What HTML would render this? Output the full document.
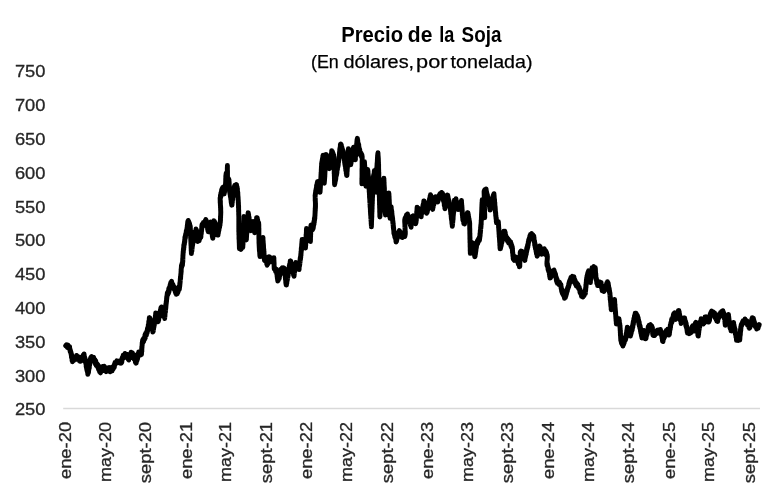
<!DOCTYPE html>
<html lang="es"><head><meta charset="utf-8"><title>Precio de la Soja</title>
<style>
html,body{margin:0;padding:0;background:#fff;}
body{width:772px;height:496px;overflow:hidden;font-family:"Liberation Sans",sans-serif;}
svg{display:block}
text{font-family:"Liberation Sans",sans-serif;}
</style></head><body>
<svg width="772" height="496" viewBox="0 0 772 496">
<rect width="772" height="496" fill="#fff"/>
<text y="42" font-size="21.3" font-weight="bold" fill="#000"><tspan x="341.22" textLength="61.75" lengthAdjust="spacingAndGlyphs">Precio</tspan> <tspan x="407.84" textLength="24.58" lengthAdjust="spacingAndGlyphs">de</tspan> <tspan x="439.33" textLength="15.10" lengthAdjust="spacingAndGlyphs">la</tspan> <tspan x="461.62" textLength="39.76" lengthAdjust="spacingAndGlyphs">Soja</tspan></text>
<text y="68" font-size="18.9" fill="#000" stroke="#000" stroke-width="0.25"><tspan x="311.00" textLength="27.82" lengthAdjust="spacingAndGlyphs">(En</tspan> <tspan x="343.40" textLength="70.77" lengthAdjust="spacingAndGlyphs">dólares,</tspan> <tspan x="416.07" textLength="31.41" lengthAdjust="spacingAndGlyphs">por</tspan> <tspan x="450.56" textLength="82.00" lengthAdjust="spacingAndGlyphs">tonelada)</tspan></text>
<line x1="63.2" y1="408.5" x2="760" y2="408.5" stroke="#d9d9d9" stroke-width="1.3"/>
<g font-size="17.3" fill="#262626" stroke="#262626" stroke-width="0.3">
<text x="14.9" y="77" textLength="30.6" lengthAdjust="spacingAndGlyphs">750</text>
<text x="14.9" y="111" textLength="30.6" lengthAdjust="spacingAndGlyphs">700</text>
<text x="14.9" y="145" textLength="30.6" lengthAdjust="spacingAndGlyphs">650</text>
<text x="14.9" y="179" textLength="30.6" lengthAdjust="spacingAndGlyphs">600</text>
<text x="14.9" y="213" textLength="30.6" lengthAdjust="spacingAndGlyphs">550</text>
<text x="14.9" y="246" textLength="30.6" lengthAdjust="spacingAndGlyphs">500</text>
<text x="14.9" y="280" textLength="30.6" lengthAdjust="spacingAndGlyphs">450</text>
<text x="14.9" y="314" textLength="30.6" lengthAdjust="spacingAndGlyphs">400</text>
<text x="14.9" y="348" textLength="30.6" lengthAdjust="spacingAndGlyphs">350</text>
<text x="14.9" y="382" textLength="30.6" lengthAdjust="spacingAndGlyphs">300</text>
<text x="14.9" y="415" textLength="30.6" lengthAdjust="spacingAndGlyphs">250</text>
</g>
<g font-size="17.3" fill="#262626" stroke="#262626" stroke-width="0.3">
<text transform="translate(70.8,421.9) rotate(-90)" text-anchor="end" textLength="57.2" lengthAdjust="spacingAndGlyphs">ene-20</text>
<text transform="translate(110.8,421.9) rotate(-90)" text-anchor="end" textLength="60.1" lengthAdjust="spacingAndGlyphs">may-20</text>
<text transform="translate(151.4,421.9) rotate(-90)" text-anchor="end" textLength="61.3" lengthAdjust="spacingAndGlyphs">sept-20</text>
<text transform="translate(191.7,421.9) rotate(-90)" text-anchor="end" textLength="57.2" lengthAdjust="spacingAndGlyphs">ene-21</text>
<text transform="translate(231.4,421.9) rotate(-90)" text-anchor="end" textLength="60.1" lengthAdjust="spacingAndGlyphs">may-21</text>
<text transform="translate(272.0,421.9) rotate(-90)" text-anchor="end" textLength="61.3" lengthAdjust="spacingAndGlyphs">sept-21</text>
<text transform="translate(312.3,421.9) rotate(-90)" text-anchor="end" textLength="57.2" lengthAdjust="spacingAndGlyphs">ene-22</text>
<text transform="translate(352.0,421.9) rotate(-90)" text-anchor="end" textLength="60.1" lengthAdjust="spacingAndGlyphs">may-22</text>
<text transform="translate(392.6,421.9) rotate(-90)" text-anchor="end" textLength="61.3" lengthAdjust="spacingAndGlyphs">sept-22</text>
<text transform="translate(433.0,421.9) rotate(-90)" text-anchor="end" textLength="57.2" lengthAdjust="spacingAndGlyphs">ene-23</text>
<text transform="translate(472.6,421.9) rotate(-90)" text-anchor="end" textLength="60.1" lengthAdjust="spacingAndGlyphs">may-23</text>
<text transform="translate(513.3,421.9) rotate(-90)" text-anchor="end" textLength="61.3" lengthAdjust="spacingAndGlyphs">sept-23</text>
<text transform="translate(553.6,421.9) rotate(-90)" text-anchor="end" textLength="57.2" lengthAdjust="spacingAndGlyphs">ene-24</text>
<text transform="translate(593.5,421.9) rotate(-90)" text-anchor="end" textLength="60.1" lengthAdjust="spacingAndGlyphs">may-24</text>
<text transform="translate(634.2,421.9) rotate(-90)" text-anchor="end" textLength="61.3" lengthAdjust="spacingAndGlyphs">sept-24</text>
<text transform="translate(674.5,421.9) rotate(-90)" text-anchor="end" textLength="57.2" lengthAdjust="spacingAndGlyphs">ene-25</text>
<text transform="translate(714.2,421.9) rotate(-90)" text-anchor="end" textLength="60.1" lengthAdjust="spacingAndGlyphs">may-25</text>
<text transform="translate(754.8,421.9) rotate(-90)" text-anchor="end" textLength="61.3" lengthAdjust="spacingAndGlyphs">sept-25</text>
</g>
<path d="M65.7,345.7 66.4,344.8 67.2,347.4 67.9,345.0 68.7,347.9 69.4,347.4 69.6,346.6 69.8,350.2 70.0,348.8 70.2,351.8 70.5,350.3 70.7,353.2 70.9,351.7 71.1,353.3 71.2,355.0 71.4,353.5 71.5,357.6 71.7,355.5 71.8,358.3 72.0,356.3 72.1,360.9 72.3,357.9 72.4,361.7 72.6,361.1 73.1,358.3 73.7,360.7 74.2,357.2 74.8,359.7 75.3,356.9 75.9,358.2 76.5,355.4 77.0,356.0 77.4,358.6 77.9,356.3 78.3,359.6 78.8,356.9 79.2,360.6 79.6,358.3 80.1,361.4 80.5,361.2 80.9,359.7 81.3,360.9 81.6,357.5 82.0,359.9 82.4,356.6 82.8,358.8 83.1,355.1 83.5,357.1 83.9,355.2 84.1,354.0 84.3,358.5 84.5,356.3 84.7,359.8 84.8,357.4 85.0,361.7 85.2,358.6 85.4,362.4 85.6,359.8 85.8,362.7 86.0,364.4 86.1,362.9 86.2,366.9 86.4,364.8 86.5,368.1 86.7,366.5 86.8,369.9 87.0,367.1 87.2,371.3 87.3,368.5 87.5,372.5 87.6,370.3 87.8,374.4 87.9,373.6 88.0,371.2 88.2,373.5 88.3,369.3 88.5,372.6 88.6,368.3 88.7,370.7 88.9,367.3 89.0,369.2 89.1,365.0 89.3,368.1 89.4,363.2 89.6,365.5 89.7,362.2 89.8,364.5 90.0,361.2 90.1,362.7 90.2,359.5 90.4,360.7 90.5,358.1 90.7,360.0 90.8,357.4 91.6,356.6 92.5,358.9 93.3,357.9 93.6,357.2 94.0,361.3 94.3,359.0 94.7,362.0 95.0,359.7 95.4,364.0 95.7,360.7 96.1,365.3 96.4,364.0 96.9,363.5 97.3,366.6 97.8,364.6 98.3,366.5 98.5,369.3 98.8,366.0 99.0,369.9 99.3,368.7 99.5,371.6 99.8,370.2 100.0,372.1 100.5,372.8 100.9,369.1 101.4,371.1 101.9,368.5 102.4,369.9 102.8,366.5 103.3,367.1 103.7,369.3 104.2,366.2 104.6,370.7 105.1,368.1 105.5,370.2 106.2,371.6 107.0,368.0 107.7,370.3 108.4,369.2 109.2,367.5 110.1,371.8 110.9,370.2 111.5,367.6 112.1,370.9 112.6,367.0 113.2,369.1 113.8,367.1 114.0,365.4 114.3,367.3 114.5,364.0 114.8,365.0 115.0,362.4 115.3,362.7 116.1,363.4 116.8,360.8 117.6,362.6 118.4,361.4 119.0,361.0 119.7,363.0 120.3,361.5 120.9,362.7 121.2,363.2 121.5,360.4 121.8,362.4 122.1,358.0 122.3,359.8 122.6,357.0 122.9,358.6 123.2,355.3 123.5,355.8 124.3,356.5 125.0,353.4 125.8,357.3 126.6,354.9 126.9,354.2 127.2,357.9 127.5,356.4 127.9,358.9 128.2,357.6 128.5,359.6 128.8,360.0 129.1,356.2 129.5,358.4 129.8,355.8 130.1,358.0 130.4,353.6 130.8,355.4 131.1,352.1 131.4,352.9 131.9,354.4 132.4,352.8 133.0,357.2 133.5,355.8 133.8,354.6 134.1,359.1 134.4,357.0 134.8,360.2 135.1,358.7 135.4,362.4 135.7,359.8 136.0,362.1 136.2,363.2 136.4,359.4 136.7,361.0 136.9,357.2 137.1,360.5 137.3,355.6 137.6,358.8 137.8,354.2 138.0,357.2 138.2,353.5 138.5,355.4 138.7,351.9 138.9,352.4 139.5,353.7 140.2,352.5 140.8,354.9 141.4,354.2 141.5,352.3 141.5,354.4 141.6,349.7 141.6,352.5 141.7,348.2 141.8,351.7 141.8,346.7 141.9,349.3 141.9,346.2 142.0,347.6 142.1,344.6 142.1,346.0 142.2,342.5 142.2,345.4 142.3,342.6 142.7,339.9 143.0,342.6 143.4,338.7 143.7,341.6 144.1,338.0 144.4,338.2 144.7,339.2 145.0,334.7 145.3,338.0 145.6,333.5 145.8,336.1 146.1,332.9 146.4,335.1 146.7,332.5 147.0,330.5 147.2,332.9 147.5,328.1 147.7,330.9 148.0,328.8 148.1,326.6 148.2,329.3 148.3,324.6 148.5,326.6 148.6,323.8 148.7,324.9 148.8,321.1 148.9,324.3 149.0,320.6 149.2,322.7 149.3,317.7 149.4,320.8 149.5,318.3 149.7,317.8 149.9,321.4 150.1,319.6 150.3,322.1 150.5,320.0 150.7,324.6 150.9,322.1 151.1,326.5 151.4,323.8 151.6,328.0 151.8,324.8 152.0,328.5 152.2,327.1 152.4,330.2 152.6,328.7 152.8,332.1 153.0,331.3 153.1,329.4 153.3,331.1 153.4,328.0 153.5,330.2 153.6,326.1 153.8,328.0 153.9,324.2 154.0,327.0 154.1,322.8 154.3,325.5 154.4,321.1 154.5,323.3 154.7,319.5 154.8,321.0 154.9,318.0 155.0,319.7 155.2,317.1 155.3,319.0 155.4,315.3 155.5,316.9 155.7,312.9 155.8,313.9 156.0,316.2 156.2,314.2 156.4,317.7 156.6,315.3 156.9,319.5 157.1,317.5 157.3,320.7 157.5,318.8 157.7,321.8 157.9,321.4 158.1,318.7 158.3,321.3 158.5,317.5 158.7,320.2 158.9,315.4 159.1,318.1 159.3,314.3 159.5,316.7 159.6,312.9 159.8,315.4 160.0,311.4 160.2,313.6 160.4,309.9 160.6,312.6 160.8,308.0 161.0,311.0 161.2,308.2 161.5,306.9 161.8,310.9 162.0,309.0 162.3,313.5 162.6,310.1 162.9,313.9 163.2,312.7 163.5,315.9 163.8,314.4 164.0,317.1 164.3,315.9 164.6,317.6 164.7,318.5 164.8,314.1 164.9,317.2 165.0,313.4 165.0,315.4 165.1,311.0 165.2,312.9 165.3,309.1 165.4,312.5 165.5,308.4 165.6,310.9 165.7,306.6 165.8,308.6 165.8,304.1 165.9,307.5 166.0,303.7 166.1,305.3 166.2,301.6 166.3,303.5 166.4,300.4 166.5,301.9 166.6,298.0 166.7,299.8 166.7,296.7 166.8,298.8 166.9,295.8 167.0,297.1 167.1,295.0 167.4,292.6 167.7,295.0 168.0,291.8 168.3,291.9 168.5,293.3 168.8,288.4 169.0,291.7 169.3,287.8 169.5,289.1 169.8,286.3 170.0,288.2 170.2,284.4 170.5,285.7 170.7,282.6 171.0,285.3 171.2,282.4 171.6,281.2 171.9,285.0 172.3,283.6 172.7,287.3 173.0,284.4 173.4,288.5 173.8,286.5 174.1,289.0 174.5,287.1 174.9,290.9 175.2,289.4 175.6,293.1 176.0,290.0 176.3,294.3 176.7,293.1 177.0,291.5 177.3,293.7 177.7,290.1 178.0,292.3 178.3,288.2 178.6,290.2 179.0,286.6 179.3,289.6 179.6,286.8 179.7,284.9 179.8,286.2 179.8,282.9 179.9,284.8 180.0,282.0 180.1,283.1 180.2,280.5 180.2,281.6 180.3,278.6 180.4,280.2 180.5,276.4 180.6,278.6 180.7,275.2 180.7,276.9 180.8,273.8 180.9,274.3 181.0,274.3 181.0,271.6 181.1,272.7 181.1,269.3 181.2,271.9 181.2,268.5 181.2,270.2 181.3,268.0 181.5,265.2 181.7,267.4 181.9,263.8 182.0,266.4 182.2,262.8 182.4,265.5 182.6,262.8 182.6,260.7 182.7,262.7 182.7,258.6 182.8,261.7 182.8,257.5 182.9,259.9 182.9,255.4 182.9,258.0 183.0,254.2 183.0,256.0 183.1,253.1 183.1,254.1 183.2,251.4 183.2,251.5 183.3,252.6 183.4,248.8 183.5,250.2 183.6,247.5 183.7,249.6 183.8,244.9 183.9,247.8 184.0,244.1 184.1,245.7 184.3,242.6 184.4,244.4 184.5,241.2 184.6,242.9 184.7,239.5 184.8,242.1 184.9,237.0 185.0,239.9 185.1,237.6 185.3,235.7 185.4,238.2 185.6,234.0 185.8,235.7 186.0,232.8 186.1,234.1 186.3,230.6 186.5,232.7 186.7,229.3 186.8,231.1 187.0,228.8 187.1,227.2 187.2,228.3 187.3,225.4 187.4,226.8 187.5,223.8 187.6,224.6 187.7,221.8 187.8,223.2 187.9,221.3 188.2,220.4 188.6,224.3 188.9,221.6 189.2,225.9 189.5,223.1 189.9,227.6 190.2,226.3 190.2,225.8 190.3,229.1 190.3,226.5 190.3,230.5 190.4,228.5 190.4,232.8 190.5,231.1 190.5,234.7 190.5,231.5 190.6,236.0 190.6,233.3 190.6,237.8 190.7,235.7 190.7,239.0 190.7,236.8 190.8,241.1 190.8,238.0 190.9,242.7 190.9,239.9 190.9,244.3 191.0,241.4 191.0,245.7 191.0,243.6 191.1,246.3 191.1,245.3 191.1,248.4 191.2,247.0 191.2,250.7 191.3,247.9 191.3,252.0 191.3,249.4 191.4,253.6 191.4,252.7 191.5,250.4 191.6,251.9 191.7,248.4 191.9,251.3 192.0,247.2 192.1,249.4 192.2,245.4 192.3,247.2 192.4,243.7 192.5,245.8 192.7,243.0 192.8,244.2 192.9,240.5 193.0,242.6 193.1,238.9 193.2,242.1 193.3,237.6 193.4,239.6 193.6,236.0 193.7,238.4 193.8,234.0 193.9,235.1 194.3,236.0 194.6,232.0 195.0,233.8 195.3,231.3 195.7,232.7 196.0,229.0 196.4,230.1 196.5,232.1 196.6,230.1 196.7,233.3 196.8,232.5 196.9,235.3 197.0,233.2 197.1,237.5 197.1,234.8 197.2,238.6 197.3,236.7 197.4,240.4 197.5,238.3 197.6,241.5 197.7,241.4 198.1,238.7 198.5,241.1 198.9,237.1 199.2,240.7 199.6,237.1 200.0,238.6 200.4,234.6 200.8,235.8 200.9,237.2 201.0,232.8 201.1,234.6 201.2,231.6 201.3,234.0 201.4,230.1 201.5,232.0 201.6,228.6 201.7,230.3 201.8,225.9 201.9,228.2 202.0,224.5 202.1,225.7 202.7,226.6 203.4,222.4 204.0,223.8 204.4,224.9 204.9,221.3 205.3,223.8 205.8,219.5 206.2,220.3 206.4,221.9 206.5,221.1 206.7,224.2 206.8,222.1 207.0,225.5 207.1,224.2 207.3,227.2 207.5,225.5 207.6,229.5 207.8,227.6 207.9,231.0 208.1,228.0 208.2,231.7 208.4,231.6 208.6,228.7 208.8,231.8 209.0,227.2 209.2,229.7 209.4,226.4 209.7,228.3 209.9,224.0 210.1,227.0 210.3,223.3 210.5,225.2 210.7,221.9 210.9,222.3 211.0,223.9 211.1,223.0 211.2,226.7 211.3,224.3 211.4,228.4 211.5,226.0 211.6,229.0 211.7,227.2 211.8,230.5 211.9,229.0 211.9,233.2 212.0,229.9 212.1,234.6 212.2,231.8 212.3,236.4 212.4,233.0 212.5,237.5 212.6,234.9 212.7,238.3 212.8,238.3 212.9,235.7 212.9,238.2 213.0,234.1 213.0,236.9 213.1,233.2 213.1,234.4 213.2,230.7 213.2,233.0 213.3,229.8 213.3,231.7 213.4,228.5 213.5,230.7 213.5,226.0 213.6,228.5 213.6,224.9 213.7,227.0 213.7,223.4 213.8,225.6 213.8,222.4 213.9,223.7 213.9,220.8 214.0,221.1 214.2,224.0 214.4,221.2 214.7,224.5 214.9,222.2 215.1,227.2 215.3,224.4 215.6,227.6 215.8,226.4 216.0,229.1 216.2,227.7 216.5,230.7 216.7,229.4 216.9,232.5 217.1,230.6 217.4,235.0 217.6,231.9 217.8,234.5 218.0,235.1 218.1,231.6 218.3,233.6 218.5,230.0 218.6,231.8 218.8,228.9 219.0,230.1 219.1,226.0 219.3,228.3 219.5,225.1 219.6,227.4 219.8,223.0 220.0,225.3 220.1,222.2 220.3,222.6 220.3,222.9 220.4,219.7 220.4,221.7 220.5,217.4 220.5,220.7 220.5,215.9 220.6,218.0 220.6,215.6 220.6,217.4 220.7,212.8 220.7,215.5 220.8,211.7 220.8,212.5 220.8,212.5 220.7,209.6 220.7,212.3 220.7,207.4 220.6,210.6 220.6,205.7 220.5,208.2 220.5,205.3 220.5,206.5 220.4,203.2 220.4,205.7 220.4,201.0 220.3,204.2 220.3,199.9 220.2,202.7 220.2,198.6 220.2,200.8 220.1,197.7 220.1,197.7 220.3,198.8 220.5,195.0 220.7,197.4 220.9,192.9 221.1,195.0 221.2,192.0 221.4,193.3 221.6,189.8 221.8,192.4 222.0,188.9 222.2,190.0 222.4,188.3 222.6,187.6 222.9,191.5 223.1,189.4 223.3,192.6 223.5,190.7 223.8,194.0 224.0,194.0 224.1,192.0 224.2,193.9 224.4,189.6 224.5,192.6 224.6,188.1 224.7,190.8 224.9,187.5 225.0,189.0 225.1,184.9 225.2,188.1 225.4,184.3 225.5,185.6 225.6,184.0 225.6,181.7 225.7,184.2 225.7,180.3 225.7,182.0 225.7,178.4 225.8,181.5 225.8,177.5 225.8,178.6 225.8,175.8 225.9,177.6 225.9,175.5 226.2,173.1 226.6,175.3 227.0,171.7 227.3,173.0 227.3,174.0 227.3,169.9 227.3,171.6 227.3,167.6 227.4,170.2 227.4,166.2 227.4,168.4 227.4,165.4 227.4,165.7 227.4,168.4 227.4,166.1 227.4,170.3 227.4,167.5 227.4,170.8 227.4,169.5 227.4,172.8 227.5,170.5 227.5,175.2 227.5,172.9 227.5,176.1 227.5,174.5 227.5,178.5 227.5,176.2 227.5,178.0 228.0,179.5 228.4,178.5 228.9,180.0 228.9,182.1 229.0,179.5 229.0,184.3 229.1,181.3 229.1,186.0 229.2,182.5 229.2,186.6 229.3,185.1 229.3,189.0 229.4,185.9 229.4,189.3 229.5,187.5 229.5,190.0 229.6,192.1 229.8,190.3 229.9,193.7 230.0,192.2 230.1,194.8 230.3,193.7 230.4,197.0 230.5,194.4 230.7,198.2 230.8,196.0 230.9,200.0 231.0,198.5 231.2,202.5 231.3,199.4 231.4,203.6 231.5,202.1 231.7,205.2 231.8,204.6 231.9,202.5 232.0,205.1 232.2,201.1 232.3,202.6 232.4,198.5 232.5,200.5 232.6,197.6 232.7,200.0 232.9,195.4 233.0,197.3 233.1,194.9 233.2,195.7 233.3,192.0 233.4,194.4 233.6,190.6 233.7,193.7 233.8,189.6 233.9,190.0 234.1,190.3 234.4,186.2 234.6,189.2 234.8,185.5 235.1,187.6 235.3,185.0 236.3,185.0 236.5,184.6 236.6,187.7 236.8,186.6 236.9,190.0 237.1,186.8 237.2,191.3 237.4,188.3 237.5,192.0 237.7,192.0 237.7,191.7 237.8,195.0 237.8,192.2 237.9,197.3 237.9,194.6 238.0,197.8 238.0,196.1 238.1,199.7 238.1,196.9 238.2,200.9 238.2,198.7 238.3,203.2 238.3,200.2 238.4,204.8 238.4,202.1 238.5,205.8 238.5,205.3 238.5,204.9 238.5,208.2 238.6,205.8 238.6,209.4 238.6,208.3 238.6,212.0 238.7,209.8 238.7,212.6 238.7,211.7 238.7,214.9 238.7,212.9 238.8,217.2 238.8,213.8 238.8,216.6 238.8,219.6 238.8,217.0 238.8,219.9 238.8,218.9 238.8,222.1 238.8,219.6 238.8,223.6 238.8,221.8 238.8,225.1 238.8,222.9 238.8,227.1 238.8,224.3 238.8,228.9 238.8,226.0 238.8,229.5 238.8,227.3 238.8,230.1 238.8,232.1 238.9,230.1 238.9,233.8 238.9,231.4 238.9,235.1 239.0,233.7 239.0,236.8 239.0,235.4 239.0,239.3 239.1,236.4 239.1,240.0 239.1,238.3 239.2,242.6 239.2,239.7 239.2,243.1 239.2,240.8 239.3,245.2 239.3,242.1 239.3,246.0 239.3,244.5 239.4,248.7 239.4,247.5 240.2,245.4 241.1,249.4 242.0,246.4 242.8,247.1 242.8,247.5 242.9,244.5 242.9,245.7 242.9,241.7 243.0,244.7 243.0,240.2 243.0,242.8 243.1,238.6 243.1,241.3 243.1,237.9 243.2,240.1 243.2,235.3 243.2,237.6 243.3,234.2 243.3,236.7 243.3,233.1 243.4,234.7 243.4,231.6 243.4,232.9 243.4,229.9 243.5,231.8 243.5,227.7 243.5,229.6 243.6,227.0 243.6,228.2 243.6,224.4 243.7,226.4 243.7,223.3 243.7,224.8 243.8,221.0 243.8,223.7 243.8,220.5 243.9,221.4 243.9,218.4 243.9,220.5 244.0,216.4 244.0,217.3 244.1,219.0 244.2,217.9 244.2,221.4 244.3,219.1 244.4,222.4 244.5,220.8 244.6,224.9 244.7,222.3 244.7,225.9 244.8,223.8 244.9,227.3 245.0,224.7 245.1,229.7 245.2,227.0 245.2,230.1 245.3,228.0 245.4,231.7 245.5,230.6 245.6,234.2 245.6,231.6 245.7,235.7 245.8,233.2 245.9,237.3 246.0,234.6 246.1,237.9 246.1,236.8 246.2,240.0 246.3,239.2 246.4,236.7 246.4,239.7 246.5,235.9 246.5,237.7 246.6,234.0 246.6,236.0 246.7,232.7 246.8,234.1 246.8,230.6 246.9,233.4 246.9,229.6 247.0,231.2 247.0,227.0 247.1,230.3 247.2,226.3 247.2,227.5 247.3,223.7 247.3,227.2 247.4,222.8 247.5,224.3 247.5,220.6 247.6,223.2 247.6,219.0 247.7,221.9 247.7,217.6 247.8,219.7 247.9,216.0 247.9,218.2 248.0,215.0 248.0,217.5 248.1,212.8 248.1,215.0 248.2,213.2 248.3,212.9 248.5,216.1 248.6,214.1 248.7,217.7 248.8,216.2 249.0,219.1 249.1,217.0 249.2,221.6 249.4,219.5 249.5,222.7 249.6,220.1 249.7,223.6 249.9,221.6 250.0,225.3 250.1,223.5 250.3,227.5 250.4,225.1 250.5,228.7 250.6,226.9 250.8,230.7 250.9,229.9 251.1,227.7 251.4,230.0 251.6,226.1 251.8,228.1 252.1,225.0 252.3,226.7 252.5,222.8 252.8,224.5 253.0,222.6 253.1,221.5 253.3,226.0 253.4,223.5 253.5,226.7 253.7,225.0 253.8,228.1 253.9,227.0 254.0,230.1 254.2,228.6 254.3,231.7 254.4,229.6 254.6,232.7 254.7,232.6 254.8,230.1 254.9,231.9 255.0,228.4 255.1,231.3 255.3,227.1 255.4,228.7 255.5,225.5 255.6,227.6 255.7,223.3 255.8,225.6 255.9,221.9 256.0,225.3 256.1,220.5 256.3,223.4 256.4,219.6 256.5,222.1 256.6,217.6 256.7,218.3 256.9,221.2 257.2,217.7 257.4,221.5 257.6,219.4 257.9,224.1 258.1,221.9 258.3,224.8 258.6,222.4 258.8,225.0 258.8,226.8 258.8,224.6 258.8,228.6 258.8,226.3 258.8,230.0 258.9,228.3 258.9,232.7 258.9,230.4 258.9,233.4 258.9,231.6 258.9,235.1 258.9,233.8 258.9,236.5 258.9,235.3 258.9,239.2 258.9,236.1 259.0,240.7 259.0,238.5 259.0,242.2 259.0,240.2 259.0,243.4 259.0,242.7 259.1,241.8 259.1,245.6 259.2,243.1 259.2,247.5 259.3,245.1 259.3,249.5 259.4,247.4 259.4,251.3 259.5,248.2 259.6,252.0 259.6,249.6 259.7,253.4 259.7,250.9 259.8,255.5 259.8,253.4 259.9,255.5 260.0,256.6 260.2,252.5 260.3,254.2 260.4,250.5 260.6,252.4 260.7,248.9 260.9,251.2 261.0,247.6 261.1,250.6 261.3,246.1 261.4,248.6 261.5,244.9 261.7,246.1 261.8,243.7 261.9,244.8 262.1,241.3 262.2,243.6 262.4,239.9 262.5,242.7 262.6,238.9 262.8,240.2 262.9,238.3 263.0,237.4 263.0,240.7 263.1,239.9 263.1,242.7 263.2,241.3 263.2,244.3 263.3,242.7 263.4,246.2 263.4,243.8 263.5,247.2 263.5,245.3 263.6,249.2 263.6,247.6 263.7,251.4 263.8,249.0 263.8,251.9 263.9,250.8 263.9,254.1 264.0,251.2 264.0,255.9 264.1,253.5 264.2,256.7 264.2,255.6 264.3,258.8 264.3,256.4 264.4,260.0 264.4,257.8 264.5,260.3 265.1,261.0 265.7,258.8 265.9,257.5 266.2,262.2 266.4,260.1 266.7,264.1 266.9,262.0 267.2,265.2 267.4,264.5 267.6,262.4 267.7,264.1 267.9,261.4 268.1,263.4 268.2,260.0 268.4,261.6 268.6,257.1 268.8,259.5 268.9,256.7 269.1,257.0 269.4,259.4 269.7,257.0 270.0,260.9 270.2,258.0 270.5,261.7 270.8,261.4 271.4,259.7 272.0,261.6 272.7,259.0 273.3,261.4 273.9,258.8 273.9,257.7 273.9,262.1 274.0,260.4 274.0,263.9 274.0,260.8 274.0,264.9 274.1,262.4 274.1,266.4 274.1,264.7 274.1,267.5 274.2,266.2 274.2,268.9 274.2,268.9 274.9,268.1 275.7,271.6 276.4,270.2 276.5,269.3 276.6,273.8 276.7,270.9 276.9,274.6 277.0,272.7 277.1,276.5 277.2,274.0 277.3,278.2 277.4,276.4 277.6,280.0 277.7,277.0 277.8,281.1 277.9,280.8 278.1,278.0 278.4,280.1 278.6,277.4 278.8,278.9 279.1,275.2 279.3,278.4 279.5,273.7 279.8,276.0 280.0,272.0 280.2,274.5 280.5,271.4 280.7,273.8 280.9,269.3 281.2,272.0 281.4,269.5 282.2,267.7 283.0,271.5 283.8,267.8 284.6,269.2 284.7,272.0 284.8,269.0 284.8,273.6 284.9,270.9 285.0,274.9 285.1,272.3 285.2,275.9 285.2,274.4 285.3,277.9 285.4,276.2 285.5,279.9 285.6,277.6 285.6,280.2 285.7,279.3 285.8,283.1 285.9,280.5 286.0,283.5 286.0,282.5 286.1,284.9 286.2,284.9 286.3,282.3 286.5,285.0 286.6,280.7 286.8,283.5 286.9,280.0 287.0,281.7 287.2,278.0 287.3,280.4 287.5,275.8 287.6,278.9 287.7,275.2 287.9,277.3 288.0,272.4 288.2,275.8 288.3,272.0 288.4,273.2 288.6,270.4 288.7,271.3 288.9,267.7 289.0,268.9 289.1,270.1 289.3,265.7 289.4,268.6 289.6,264.2 289.8,266.3 289.9,263.5 290.1,264.6 290.2,261.0 290.4,263.2 290.5,261.4 290.7,260.9 290.9,264.3 291.1,262.9 291.3,265.6 291.5,264.1 291.7,267.8 291.9,265.5 292.1,268.8 292.2,266.2 292.4,270.6 292.6,267.8 292.8,272.3 293.0,270.6 293.2,273.5 293.4,271.5 293.6,275.5 293.8,273.2 294.0,275.2 294.1,276.2 294.3,272.1 294.4,273.9 294.5,270.0 294.6,272.1 294.8,268.5 294.9,270.6 295.0,268.0 295.1,269.1 295.3,265.3 295.4,268.6 295.5,264.8 295.6,266.3 295.8,262.5 295.9,263.2 296.3,265.8 296.8,263.6 297.2,266.9 297.7,264.8 298.1,268.8 298.6,266.4 299.0,268.3 299.1,269.6 299.2,265.6 299.3,267.0 299.4,263.4 299.6,265.9 299.7,262.7 299.8,264.5 299.9,261.2 300.0,263.2 300.1,258.8 300.2,261.7 300.3,257.3 300.5,259.5 300.6,256.1 300.7,258.0 300.8,253.8 300.9,255.1 301.0,255.2 301.0,251.4 301.1,253.5 301.2,250.8 301.2,252.2 301.3,248.1 301.4,250.9 301.4,247.3 301.5,249.8 301.6,245.8 301.7,247.6 301.7,243.8 301.8,246.3 301.9,241.8 301.9,244.6 302.0,240.8 302.1,242.5 302.1,239.4 302.2,239.6 302.5,242.3 302.8,239.4 303.1,243.6 303.4,241.5 303.7,244.7 303.9,242.1 304.2,246.4 304.5,244.5 304.8,247.7 305.1,244.9 305.4,247.7 305.5,248.0 305.5,245.1 305.6,246.5 305.6,242.8 305.7,245.7 305.7,242.0 305.8,243.2 305.8,240.2 305.9,241.8 305.9,238.3 306.0,240.0 306.0,237.0 306.1,238.5 306.1,234.5 306.2,237.6 306.2,234.1 306.3,236.4 306.3,232.5 306.4,234.0 306.4,229.7 306.5,233.0 306.5,228.5 306.6,229.5 306.9,231.6 307.1,230.0 307.4,233.4 307.6,231.6 307.9,234.3 308.1,232.7 308.4,235.6 308.6,234.2 308.9,238.2 309.1,235.3 309.4,239.3 309.6,236.9 309.9,240.7 310.1,239.1 310.4,240.8 310.4,241.6 310.5,237.9 310.5,240.3 310.5,235.6 310.5,238.3 310.6,234.5 310.6,237.1 310.6,233.1 310.7,234.8 310.7,231.1 310.7,234.2 310.8,229.5 310.8,232.4 310.8,227.8 310.9,230.8 310.9,226.6 310.9,228.9 310.9,225.5 311.0,227.6 311.0,225.1 311.4,225.0 311.8,228.0 312.1,225.5 312.5,229.9 312.9,228.9 313.0,226.4 313.2,228.4 313.3,225.1 313.4,227.1 313.6,223.2 313.7,225.4 313.9,221.5 314.0,224.5 314.1,220.6 314.3,222.5 314.4,218.1 314.5,220.5 314.7,216.9 314.8,217.6 314.8,219.0 314.9,215.2 314.9,216.8 315.0,213.5 315.0,215.6 315.1,210.8 315.1,213.6 315.1,210.4 315.2,212.2 315.2,208.2 315.3,210.8 315.3,206.7 315.4,209.1 315.4,204.7 315.5,207.4 315.5,205.1 315.5,202.9 315.4,205.6 315.4,201.6 315.4,203.5 315.3,199.6 315.3,202.0 315.3,198.4 315.2,200.7 315.2,196.4 315.2,197.7 315.1,194.9 315.1,195.2 315.2,195.8 315.4,192.8 315.5,194.2 315.7,190.7 315.8,193.0 316.0,189.2 316.1,190.8 316.3,187.8 316.4,189.9 316.6,185.2 316.7,188.1 316.9,184.7 317.0,186.9 317.2,182.8 317.3,184.4 317.5,181.6 317.6,181.8 317.8,184.4 318.0,181.4 318.2,185.8 318.4,183.4 318.6,187.2 318.8,185.3 318.9,189.3 319.1,186.7 319.3,190.4 319.5,187.6 319.7,192.2 319.9,189.6 320.1,191.8 320.1,192.2 320.2,188.7 320.2,190.4 320.3,186.7 320.3,189.1 320.4,185.1 320.4,187.4 320.5,184.2 320.5,185.8 320.5,182.5 320.6,184.2 320.6,181.6 320.7,183.3 320.7,179.6 320.8,181.1 320.8,178.0 320.9,179.8 320.9,176.2 320.9,178.5 321.0,174.3 321.0,176.5 321.1,172.3 321.1,175.6 321.2,172.0 321.2,174.0 321.3,169.2 321.3,172.4 321.3,168.7 321.4,170.9 321.4,166.5 321.5,168.1 321.5,165.8 321.6,167.9 321.6,163.3 321.7,165.3 321.7,163.4 321.9,161.7 322.0,162.8 322.2,159.9 322.4,162.1 322.5,158.1 322.7,159.6 322.9,155.7 323.1,158.9 323.2,155.2 323.4,155.4 323.4,158.2 323.5,155.4 323.5,159.7 323.5,156.9 323.5,161.4 323.6,158.3 323.6,163.0 323.6,160.7 323.6,164.4 323.7,161.9 323.7,166.0 323.7,163.6 323.7,167.8 323.8,165.0 323.8,168.5 323.8,167.1 323.9,170.0 323.9,168.3 323.9,171.5 323.9,170.0 324.0,173.2 324.0,171.5 324.0,175.3 324.0,173.1 324.1,177.4 324.1,175.4 324.1,179.0 324.1,176.4 324.2,180.2 324.2,177.7 324.2,182.2 324.2,179.7 324.3,183.2 324.3,182.6 324.4,179.6 324.4,181.9 324.5,178.5 324.5,181.0 324.6,177.7 324.6,179.4 324.7,175.2 324.7,178.2 324.8,174.1 324.8,176.7 324.9,172.2 324.9,174.4 325.0,170.0 325.0,172.1 325.1,168.7 325.1,171.3 325.2,167.6 325.3,170.0 325.3,165.9 325.4,167.9 325.4,164.1 325.5,166.7 325.5,162.9 325.6,164.6 325.6,161.0 325.7,163.1 325.7,158.8 325.8,161.1 325.8,157.2 325.9,159.7 325.9,156.0 326.0,157.9 326.0,154.4 326.1,155.1 326.3,158.0 326.5,155.0 326.7,159.3 326.9,157.0 327.0,160.2 327.2,158.6 327.4,162.2 327.6,159.7 327.8,164.0 328.0,162.1 328.2,165.5 328.4,162.5 328.5,166.8 328.7,165.2 328.9,168.0 329.1,166.8 329.3,168.4 329.4,168.6 329.5,164.7 329.7,167.7 329.8,163.5 329.9,166.3 330.0,161.6 330.1,164.5 330.3,160.4 330.4,162.9 330.5,158.7 330.6,161.3 330.7,157.1 330.8,159.1 331.0,155.5 331.1,157.9 331.2,153.8 331.3,155.8 331.4,153.1 331.6,154.1 331.7,150.6 331.8,151.7 332.1,154.5 332.4,151.4 332.7,155.1 332.9,152.6 333.2,157.2 333.5,154.4 333.8,156.7 333.8,158.6 333.8,157.1 333.9,160.4 333.9,158.6 333.9,162.0 333.9,159.7 334.0,164.3 334.0,162.2 334.0,165.4 334.0,163.8 334.1,166.3 334.1,164.2 334.1,168.5 334.1,165.7 334.1,169.9 334.2,168.5 334.2,171.4 334.2,169.3 334.2,173.8 334.3,170.3 334.3,174.7 334.3,172.7 334.3,175.8 334.3,173.9 334.4,177.5 334.4,176.2 334.4,178.8 334.4,178.0 334.5,181.3 334.5,179.4 334.5,183.3 334.5,181.0 334.6,184.7 334.6,182.6 334.6,184.3 334.7,184.3 334.9,180.9 335.0,183.1 335.1,179.4 335.3,181.5 335.4,178.8 335.5,180.7 335.7,176.3 335.8,179.3 335.9,174.7 336.1,176.7 336.2,173.3 336.3,176.0 336.5,172.0 336.6,174.8 336.8,170.8 336.9,173.3 337.0,168.5 337.2,170.3 337.3,168.0 337.4,169.7 337.6,165.3 337.7,167.3 337.8,164.5 338.0,166.7 338.1,163.1 338.2,165.4 338.4,161.1 338.5,161.8 338.6,161.9 338.7,158.9 338.8,161.0 338.9,157.3 339.0,159.6 339.1,156.1 339.2,158.2 339.3,154.3 339.4,156.5 339.5,152.3 339.6,154.6 339.6,151.1 339.7,153.5 339.8,148.7 339.9,152.0 340.0,147.7 340.1,149.7 340.2,146.9 340.3,149.1 340.4,144.4 340.5,147.3 340.6,144.6 340.8,144.1 341.1,147.7 341.3,144.6 341.6,149.5 341.8,146.6 342.1,150.2 342.3,148.4 342.5,152.5 342.8,149.9 343.0,153.7 343.3,151.0 343.5,153.4 343.6,156.3 343.7,153.1 343.9,157.0 344.0,155.8 344.1,158.6 344.2,156.8 344.4,160.6 344.5,157.9 344.6,162.7 344.7,160.6 344.8,164.2 345.0,161.1 345.1,165.9 345.2,163.1 345.3,166.6 345.5,164.3 345.6,169.0 345.7,166.1 345.8,170.7 345.9,168.2 346.1,171.2 346.2,169.5 346.3,173.8 346.4,171.6 346.6,175.3 346.7,172.2 346.8,175.1 346.9,175.4 346.9,171.8 347.0,174.4 347.0,170.4 347.1,172.1 347.1,169.1 347.2,171.3 347.2,166.7 347.3,169.3 347.3,166.1 347.4,168.2 347.5,163.5 347.5,165.7 347.6,162.2 347.6,165.1 347.7,160.2 347.7,162.9 347.8,159.1 347.8,161.4 347.9,157.9 348.0,159.2 348.0,156.3 348.1,158.3 348.1,154.5 348.2,156.5 348.2,152.8 348.3,154.8 348.3,151.5 348.4,152.5 348.4,148.7 348.5,150.1 348.6,152.2 348.7,150.8 348.8,154.1 348.9,151.4 349.1,155.0 349.2,153.2 349.3,156.9 349.4,154.9 349.5,158.0 349.6,157.2 349.7,161.0 349.8,157.6 349.9,161.8 350.1,159.6 350.2,163.1 350.3,160.8 350.4,164.9 350.5,164.3 350.6,161.4 350.8,164.6 350.9,160.0 351.1,163.3 351.2,159.2 351.4,160.4 351.5,157.7 351.6,159.0 351.8,156.3 351.9,157.2 352.1,154.0 352.2,156.8 352.4,152.5 352.5,155.3 352.6,150.3 352.8,152.4 352.9,149.2 353.1,151.3 353.2,148.2 353.4,150.5 353.5,147.6 353.6,147.2 353.7,150.7 353.8,148.3 354.0,152.9 354.1,149.8 354.2,153.6 354.3,151.6 354.4,154.8 354.5,152.5 354.6,157.6 354.7,155.1 354.9,157.8 355.0,156.6 355.1,159.8 355.2,159.3 355.3,156.4 355.4,159.8 355.4,154.9 355.5,156.9 355.6,153.4 355.7,156.3 355.8,152.0 355.8,155.1 355.9,151.3 356.0,152.3 356.1,148.7 356.2,151.8 356.2,147.2 356.3,149.3 356.4,145.7 356.5,148.4 356.6,144.8 356.6,146.1 356.7,143.0 356.8,144.2 356.9,141.0 357.0,142.7 357.0,139.8 357.1,141.1 357.2,139.3 357.4,138.3 357.5,141.7 357.7,139.9 357.9,143.5 358.0,142.4 358.2,146.1 358.4,143.7 358.5,147.7 358.7,144.3 358.9,149.2 359.0,146.9 359.2,150.1 359.4,148.6 359.5,152.4 359.7,149.1 359.9,153.5 360.0,151.2 360.2,153.4 360.6,155.3 361.0,152.8 361.4,156.8 361.8,154.4 362.2,156.7 362.2,158.5 362.2,157.2 362.2,160.0 362.2,158.1 362.2,162.3 362.1,160.6 362.1,164.4 362.1,162.0 362.1,165.3 362.1,163.8 362.1,166.8 362.1,164.4 362.1,168.5 362.1,167.0 362.1,170.3 362.0,168.4 362.0,172.5 362.0,170.3 362.0,174.2 362.0,172.0 362.0,175.7 362.0,172.8 362.0,176.4 362.0,174.7 362.0,178.1 362.0,176.6 361.9,179.6 361.9,178.1 361.9,182.4 361.9,178.8 361.9,183.9 361.9,182.6 362.0,180.9 362.1,182.2 362.2,178.1 362.3,180.3 362.4,176.8 362.5,179.0 362.6,174.8 362.7,177.0 362.8,173.5 362.9,175.9 363.0,172.8 363.1,173.8 363.1,170.2 363.2,172.9 363.3,169.6 363.4,171.2 363.5,166.9 363.6,169.3 363.7,165.8 363.8,167.6 363.9,164.8 364.0,166.9 364.1,162.4 364.2,164.5 364.3,161.7 364.4,161.8 364.5,163.5 364.5,161.8 364.6,165.7 364.6,163.9 364.7,166.9 364.7,165.0 364.8,169.2 364.8,166.3 364.9,170.7 364.9,168.8 365.0,171.5 365.0,169.7 365.1,173.6 365.1,171.3 365.2,174.7 365.3,172.8 365.3,176.8 365.4,174.3 365.4,179.1 365.5,176.5 365.5,179.5 365.6,177.5 365.6,181.8 365.7,179.1 365.7,183.1 365.8,181.7 365.8,185.5 365.9,183.1 365.9,186.2 366.0,186.0 366.1,183.9 366.2,186.0 366.3,182.8 366.3,184.3 366.4,180.6 366.5,182.7 366.6,179.5 366.7,181.4 366.8,176.9 366.9,180.1 366.9,176.0 367.0,178.2 367.1,174.3 367.2,176.7 367.3,173.2 367.4,175.3 367.4,170.4 367.5,173.2 367.6,169.4 367.7,170.1 367.8,172.4 367.9,170.1 367.9,173.2 368.0,171.0 368.1,175.0 368.2,173.7 368.2,176.4 368.3,175.1 368.4,177.0 368.4,179.7 368.5,177.8 368.5,180.3 368.6,178.4 368.6,182.0 368.7,181.0 368.7,184.2 368.8,181.8 368.8,185.7 368.9,183.2 368.9,186.7 369.0,184.6 369.0,189.2 369.1,187.4 369.1,189.9 369.2,188.3 369.2,192.1 369.3,190.2 369.3,193.1 369.4,191.6 369.4,194.8 369.5,193.0 369.5,197.4 369.6,195.2 369.6,198.6 369.7,196.0 369.7,199.6 369.8,197.4 369.8,202.3 369.9,199.7 369.9,203.2 370.0,200.6 370.0,204.9 370.1,202.9 370.1,207.1 370.2,203.9 370.2,207.9 370.3,206.3 370.3,209.4 370.4,207.6 370.4,212.0 370.5,208.7 370.5,213.5 370.6,210.3 370.6,215.0 370.7,213.0 370.7,216.1 370.8,213.3 370.8,218.3 370.9,215.9 370.9,219.2 371.0,216.9 371.0,220.7 371.1,218.7 371.1,221.9 371.2,220.4 371.2,224.1 371.3,222.6 371.3,225.2 371.4,222.8 371.4,225.8 371.4,226.9 371.5,222.1 371.5,225.1 371.5,220.7 371.5,223.9 371.6,219.0 371.6,221.0 371.6,217.7 371.7,219.8 371.7,216.1 371.7,218.2 371.8,214.7 371.8,217.5 371.8,213.0 371.8,215.0 371.9,211.5 371.9,213.6 371.9,209.3 372.0,211.8 372.0,208.7 372.0,210.8 372.1,207.3 372.1,209.1 372.1,204.5 372.1,207.4 372.2,203.9 372.2,205.7 372.2,202.0 372.3,203.7 372.3,201.0 372.3,202.1 372.4,199.1 372.4,200.9 372.4,197.5 372.4,199.0 372.5,196.2 372.5,197.9 372.5,193.6 372.6,196.4 372.6,192.3 372.6,194.8 372.7,191.3 372.7,193.3 372.7,189.3 372.8,191.5 372.8,187.5 372.8,189.8 372.8,186.3 372.9,187.9 372.9,184.9 372.9,186.7 373.0,183.1 373.0,185.2 373.0,182.0 373.1,183.3 373.1,179.2 373.1,181.5 373.1,178.0 373.2,180.3 373.2,178.0 373.4,176.1 373.5,178.7 373.7,174.6 373.9,176.9 374.0,173.3 374.2,174.4 374.3,170.7 374.5,172.0 375.1,172.7 375.6,169.8 376.2,170.0 376.2,172.1 376.2,170.2 376.2,174.2 376.2,172.3 376.2,175.1 376.2,172.6 376.2,177.4 376.2,175.4 376.2,178.4 376.2,176.7 376.2,180.5 376.2,177.9 376.2,182.3 376.2,179.2 376.2,183.5 376.2,180.9 376.2,185.4 376.2,182.5 376.2,186.6 376.2,184.0 376.2,188.5 376.2,185.4 376.2,189.3 376.2,187.1 376.2,190.7 376.2,188.8 376.2,191.5 376.2,192.3 376.2,188.4 376.3,191.3 376.3,186.7 376.3,188.9 376.3,184.8 376.4,187.9 376.4,183.5 376.4,185.6 376.4,182.1 376.4,184.2 376.5,180.1 376.5,182.3 376.5,179.0 376.5,181.1 376.6,177.4 376.6,179.2 376.6,175.3 376.6,178.4 376.6,174.1 376.7,176.2 376.7,172.9 376.7,174.4 376.7,171.4 376.8,173.2 376.8,169.2 376.8,170.0 376.8,170.1 376.9,166.3 376.9,168.8 377.0,164.8 377.0,168.0 377.1,163.1 377.1,165.5 377.2,162.2 377.2,164.9 377.3,161.2 377.3,162.0 377.4,158.8 377.4,161.1 377.5,156.7 377.5,158.0 377.6,159.1 377.6,155.0 377.7,158.0 377.8,153.6 377.8,155.8 377.9,153.6 378.0,152.7 378.0,156.5 378.1,154.7 378.1,158.4 378.2,156.3 378.3,160.5 378.3,157.5 378.4,160.0 378.4,162.3 378.4,160.7 378.5,163.7 378.5,161.9 378.5,165.6 378.5,163.2 378.5,167.6 378.6,164.3 378.6,168.7 378.6,166.6 378.6,170.5 378.6,167.4 378.7,171.7 378.7,169.7 378.7,173.9 378.7,171.8 378.7,174.8 378.8,172.2 378.8,177.2 378.8,174.5 378.8,177.7 378.8,175.6 378.9,180.2 378.9,177.3 378.9,180.0 378.9,183.0 378.9,179.6 379.0,183.8 379.0,182.2 379.0,185.2 379.0,183.3 379.1,187.1 379.1,185.4 379.1,188.3 379.1,186.4 379.1,190.5 379.2,188.4 379.2,192.6 379.2,189.6 379.2,192.9 379.2,191.5 379.3,195.6 379.3,193.3 379.3,197.0 379.3,195.3 379.4,198.1 379.4,195.7 379.4,200.1 379.4,197.6 379.4,201.2 379.5,199.4 379.5,203.3 379.5,201.4 379.5,205.0 379.6,202.6 379.6,207.1 379.6,204.1 379.6,207.9 379.6,206.4 379.7,209.1 379.7,207.1 379.7,210.7 379.7,209.7 379.7,212.4 379.8,210.7 379.8,214.9 379.8,212.1 379.8,216.5 379.9,214.5 379.9,217.0 379.9,217.0 380.0,214.3 380.0,216.6 380.1,212.8 380.1,215.1 380.2,212.0 380.3,213.4 380.3,210.5 380.4,212.7 380.5,208.3 380.5,210.3 380.6,206.9 380.6,208.8 380.7,205.8 380.8,207.9 380.8,203.5 380.9,206.4 380.9,202.1 381.0,204.4 381.1,200.8 381.1,202.0 381.2,198.2 381.3,201.5 381.3,197.5 381.4,200.0 381.4,195.2 381.5,197.6 381.6,193.9 381.6,196.9 381.7,192.5 381.8,195.3 381.8,191.3 381.9,192.9 381.9,189.0 382.0,190.0 382.1,190.3 382.3,187.2 382.4,189.6 382.5,185.4 382.7,187.9 382.8,184.1 382.9,185.5 383.1,182.4 383.2,183.9 383.4,179.9 383.5,182.5 383.6,178.9 383.8,180.6 383.9,178.9 383.9,178.2 384.0,181.8 384.0,180.0 384.0,183.0 384.1,182.0 384.1,185.7 384.1,183.2 384.2,186.4 384.2,185.1 384.3,188.1 384.3,186.6 384.3,189.3 384.4,187.6 384.4,191.4 384.4,189.9 384.5,193.5 384.5,191.6 384.5,194.5 384.6,192.2 384.6,195.9 384.6,194.3 384.7,198.5 384.7,195.4 384.8,199.2 384.8,197.7 384.8,201.6 384.9,199.3 384.9,203.5 384.9,201.1 385.0,205.1 385.0,202.3 385.0,205.7 385.1,204.0 385.1,207.1 385.1,205.2 385.2,208.9 385.2,206.5 385.3,211.0 385.3,208.9 385.3,212.1 385.4,210.2 385.4,213.7 385.4,211.4 385.5,215.1 385.5,215.0 385.6,212.7 385.6,214.9 385.7,211.4 385.7,213.7 385.8,209.7 385.9,211.9 385.9,207.8 386.0,209.8 386.0,206.5 386.1,207.9 386.2,205.2 386.2,207.4 386.3,203.4 386.3,205.5 386.4,202.1 386.5,203.8 386.5,200.1 386.6,202.1 386.6,198.6 386.7,199.9 386.8,197.0 386.8,198.5 386.9,195.6 386.9,197.6 387.0,195.0 387.1,194.6 387.1,197.9 387.1,195.3 387.2,200.0 387.2,196.9 387.3,201.8 387.4,199.6 387.4,202.5 387.4,201.3 387.5,204.7 387.6,202.0 387.6,205.8 387.6,203.9 387.7,207.8 387.8,205.1 387.8,208.8 387.8,206.5 387.9,210.5 387.9,208.4 388.0,211.9 388.1,210.7 388.1,214.5 388.1,211.4 388.2,214.0 388.2,215.0 388.3,211.6 388.3,212.4 388.3,209.8 388.3,211.1 388.4,208.0 388.4,209.7 388.4,206.8 388.4,208.0 388.5,204.4 388.5,206.3 388.5,202.5 388.5,205.2 388.6,201.1 388.6,203.2 388.6,199.9 388.7,202.2 388.7,198.4 388.7,199.6 388.7,196.1 388.8,199.2 388.8,195.3 388.8,196.5 388.8,192.9 388.9,195.7 388.9,193.3 388.9,193.3 389.0,196.0 389.0,194.8 389.0,198.4 389.1,196.2 389.1,200.2 389.1,197.0 389.2,200.6 389.2,198.7 389.3,202.6 389.3,200.2 389.3,204.8 389.4,202.5 389.4,205.4 389.4,203.1 389.5,207.4 389.5,204.7 389.5,209.4 389.6,206.6 389.6,211.2 389.6,208.4 389.7,212.2 389.7,210.8 389.8,214.2 389.8,211.8 389.8,215.5 389.9,212.7 389.9,216.6 389.9,214.5 390.0,218.0 390.0,218.0 390.1,215.4 390.1,218.4 390.2,214.5 390.3,216.4 390.4,211.9 390.4,215.0 390.5,211.0 390.6,212.8 390.6,210.1 390.7,211.4 390.8,208.0 390.9,209.6 390.9,206.6 391.0,207.0 391.1,208.7 391.2,206.8 391.3,211.0 391.4,209.0 391.5,212.0 391.6,210.1 391.7,213.8 391.8,211.1 391.9,215.2 392.0,213.5 392.1,217.5 392.2,215.3 392.3,218.6 392.4,216.5 392.5,220.5 392.6,217.8 392.7,220.1 392.8,222.7 392.9,220.7 392.9,224.2 393.0,221.6 393.1,225.5 393.2,223.0 393.3,227.6 393.4,225.5 393.4,228.4 393.5,226.7 393.6,229.8 393.7,228.7 393.8,231.5 393.8,230.1 393.9,233.7 394.0,232.7 394.2,232.0 394.4,235.1 394.6,233.7 394.8,237.1 395.0,235.1 395.2,238.2 395.4,237.0 395.6,239.4 395.8,237.2 396.0,242.0 396.2,240.9 396.4,239.3 396.6,241.2 396.8,236.5 397.0,239.5 397.2,236.2 397.4,237.9 397.6,234.3 397.8,236.0 398.0,232.6 398.2,234.2 398.4,232.7 399.4,230.6 400.3,232.7 400.7,235.1 401.1,232.5 401.6,237.0 402.0,233.9 402.4,237.5 402.8,237.1 403.3,235.4 403.8,236.8 404.3,234.4 404.8,236.5 405.3,234.0 405.3,231.2 405.2,233.6 405.2,230.5 405.2,232.4 405.1,227.9 405.1,231.2 405.1,227.3 405.0,229.4 405.0,224.7 404.9,227.7 404.9,223.8 404.9,225.2 404.8,221.4 404.8,223.8 404.8,220.4 404.7,222.5 404.7,220.1 405.1,218.1 405.4,220.6 405.8,216.8 406.1,218.1 406.5,214.9 406.8,217.5 407.2,215.1 407.5,213.9 407.7,218.4 408.0,215.3 408.3,220.3 408.5,217.4 408.8,221.2 409.0,219.5 409.3,222.4 409.6,220.4 409.8,223.6 410.1,221.8 410.4,225.3 410.6,223.6 410.9,225.8 411.1,227.2 411.2,223.3 411.4,224.3 411.5,221.3 411.7,222.9 411.9,219.3 412.0,221.1 412.2,217.6 412.3,220.7 412.5,216.1 412.6,218.6 412.8,216.4 413.2,215.9 413.5,219.5 413.9,217.0 414.2,220.5 414.6,218.6 414.9,221.9 415.3,219.5 415.6,223.9 416.0,222.6 416.1,219.7 416.1,222.0 416.2,219.0 416.3,220.8 416.3,217.0 416.4,219.1 416.5,216.0 416.5,217.1 416.6,214.2 416.7,216.0 416.7,211.6 416.8,215.1 416.9,210.2 416.9,213.6 417.0,208.5 417.1,211.5 417.1,207.1 417.2,208.2 417.5,209.7 417.9,207.8 418.2,211.9 418.6,209.7 418.9,213.2 419.3,210.2 419.6,214.4 420.0,212.0 420.3,215.5 420.7,213.8 421.0,215.7 421.2,216.9 421.3,213.3 421.5,214.3 421.7,210.8 421.9,213.1 422.0,210.0 422.2,211.8 422.4,208.0 422.6,210.1 422.7,206.3 422.9,208.4 423.1,204.5 423.2,206.6 423.4,203.6 423.6,204.7 423.8,200.9 423.9,203.7 424.1,201.3 424.3,201.2 424.4,204.9 424.6,202.5 424.8,205.4 424.9,203.7 425.1,207.2 425.3,205.4 425.4,209.2 425.6,207.3 425.8,210.8 425.9,209.1 426.1,212.3 426.3,210.0 426.4,213.3 426.6,213.2 426.8,211.1 427.0,212.5 427.2,209.5 427.3,212.1 427.5,207.8 427.7,210.4 427.9,206.0 428.1,208.0 428.3,204.1 428.5,207.4 428.6,203.9 428.8,206.0 429.0,201.9 429.2,202.5 429.4,202.7 429.5,198.7 429.7,201.6 429.9,197.3 430.0,199.4 430.2,195.7 430.4,197.6 430.5,194.8 430.7,195.1 430.8,197.2 430.9,195.9 431.0,199.0 431.1,197.1 431.2,200.2 431.3,198.0 431.4,201.9 431.5,199.3 431.7,203.7 431.8,200.8 431.9,205.2 432.0,202.3 432.1,207.2 432.2,205.0 432.3,208.6 432.4,206.3 432.5,208.3 432.7,209.4 432.9,204.9 433.1,207.8 433.2,204.1 433.4,205.6 433.6,201.6 433.8,204.8 434.0,200.0 434.2,201.9 434.4,198.6 434.5,200.3 434.7,197.1 434.9,199.7 435.1,197.0 435.5,196.8 435.9,200.6 436.4,197.5 436.8,201.1 437.2,199.6 437.6,201.4 437.8,202.0 438.1,197.9 438.3,200.6 438.5,197.3 438.7,198.3 438.9,195.7 439.2,197.8 439.4,195.1 440.1,193.6 440.9,195.7 441.6,192.5 442.3,193.2 442.5,195.8 442.6,193.5 442.8,196.6 442.9,194.4 443.1,198.8 443.2,196.3 443.4,200.8 443.5,197.5 443.7,201.2 443.9,200.0 444.0,203.0 444.2,201.4 444.3,205.7 444.5,202.6 444.6,206.1 444.8,205.1 444.9,208.8 445.1,207.7 445.2,205.2 445.4,207.5 445.5,203.9 445.7,205.5 445.8,201.8 446.0,204.3 446.1,200.2 446.2,203.0 446.4,199.7 446.5,201.1 446.7,198.0 446.8,200.3 447.0,195.8 447.1,197.5 447.3,194.9 447.4,195.1 447.6,197.1 447.8,195.2 447.9,199.0 448.1,196.8 448.3,200.1 448.5,198.8 448.7,202.0 448.8,199.9 449.0,202.7 449.2,201.2 449.4,205.6 449.6,203.3 449.7,205.9 449.9,203.9 450.1,206.4 450.2,208.3 450.3,206.8 450.4,210.2 450.5,208.4 450.6,211.9 450.7,209.6 450.8,214.1 450.9,210.5 451.0,214.3 451.1,212.7 451.2,216.9 451.2,213.8 451.3,218.5 451.4,215.7 451.5,219.9 451.6,217.7 451.7,221.0 451.8,218.7 451.9,223.4 452.0,220.0 452.1,224.7 452.2,222.5 452.3,226.4 452.4,225.3 452.5,222.7 452.5,225.2 452.6,221.2 452.7,223.4 452.8,219.8 452.8,221.9 452.9,218.9 453.0,220.2 453.0,216.9 453.1,219.5 453.2,215.1 453.2,217.0 453.3,213.8 453.4,215.3 453.4,212.1 453.5,213.5 453.6,211.0 453.7,213.0 453.7,208.7 453.8,210.8 453.9,207.0 453.9,209.0 454.0,206.0 454.1,207.0 454.1,204.2 454.2,205.8 454.3,202.0 454.4,204.6 454.4,200.1 454.5,201.4 455.1,202.1 455.8,200.2 456.0,198.8 456.3,203.3 456.5,201.5 456.7,204.2 456.9,202.3 457.2,206.8 457.4,204.1 457.6,208.0 457.8,205.4 458.1,209.6 458.3,208.3 458.6,206.7 459.0,208.2 459.3,203.9 459.7,206.4 460.0,203.3 460.4,204.5 460.7,201.9 461.1,203.3 461.4,201.4 461.5,200.4 461.5,204.1 461.6,202.5 461.7,205.7 461.7,203.8 461.8,208.3 461.9,205.4 461.9,209.0 462.0,206.9 462.0,211.7 462.1,208.7 462.2,212.1 462.2,210.1 462.3,214.8 462.4,212.4 462.4,215.4 462.5,214.2 462.6,217.6 462.6,214.9 462.7,217.7 462.9,220.2 463.1,217.2 463.3,221.2 463.6,219.7 463.8,223.6 464.0,220.9 464.2,223.4 464.5,224.0 464.7,220.1 465.0,222.3 465.3,219.4 465.5,220.9 465.8,217.9 466.1,219.6 466.4,215.9 466.6,217.9 466.9,214.0 467.2,216.0 467.4,212.6 467.7,213.3 467.9,214.9 468.0,212.8 468.2,217.3 468.3,214.3 468.5,218.1 468.6,216.4 468.8,220.6 469.0,218.4 469.1,221.3 469.3,220.2 469.4,223.0 469.6,222.8 469.6,221.7 469.6,225.3 469.7,223.3 469.7,227.4 469.7,225.3 469.7,229.3 469.7,226.9 469.8,231.0 469.8,228.4 469.8,232.1 469.8,229.9 469.8,233.6 469.8,231.5 469.9,236.0 469.9,233.0 469.9,236.9 469.9,234.7 469.9,239.5 470.0,236.7 470.0,240.1 470.0,238.3 470.0,242.7 470.0,240.4 470.1,243.0 470.1,241.6 470.1,245.5 470.1,242.7 470.1,246.7 470.1,244.1 470.2,248.1 470.2,246.0 470.2,249.6 470.2,248.7 470.2,251.2 470.3,250.2 470.3,253.4 470.3,252.7 470.5,250.3 470.7,252.1 470.9,248.2 471.1,250.8 471.3,247.7 471.6,248.9 471.8,245.3 472.0,248.4 472.2,244.5 472.4,245.5 472.6,243.9 472.8,242.8 472.9,246.6 473.1,244.1 473.2,248.6 473.4,246.2 473.5,249.9 473.7,247.5 473.8,251.7 474.0,249.8 474.1,253.9 474.3,251.7 474.4,255.2 474.6,253.3 474.7,256.7 474.9,255.8 475.0,253.7 475.1,256.3 475.3,252.6 475.4,254.3 475.5,250.6 475.6,253.2 475.8,248.2 475.9,251.3 476.0,247.7 476.1,249.2 476.3,246.1 476.4,247.9 476.5,244.6 476.6,246.0 476.8,242.3 476.9,245.1 477.0,242.6 477.4,240.7 477.8,243.4 478.2,239.4 478.6,241.3 479.0,238.0 479.4,240.3 479.8,237.6 479.9,234.8 479.9,237.1 480.0,233.3 480.1,236.3 480.2,232.4 480.2,234.0 480.3,230.4 480.4,233.1 480.5,229.3 480.6,231.2 480.6,227.0 480.7,229.2 480.8,225.4 480.9,228.2 480.9,224.3 481.0,226.6 481.1,222.5 481.2,224.8 481.2,220.1 481.3,221.3 481.3,221.5 481.4,217.7 481.4,221.1 481.4,217.0 481.4,218.2 481.5,215.7 481.5,218.0 481.5,214.3 481.5,216.3 481.6,212.5 481.6,212.7 481.6,213.7 481.7,210.2 481.7,211.3 481.8,207.8 481.8,209.6 481.8,206.7 481.9,209.2 481.9,204.6 482.0,207.6 482.0,202.6 482.0,204.8 482.1,202.1 482.1,204.3 482.2,199.8 482.2,200.8 482.3,202.4 482.4,200.9 482.6,204.2 482.7,202.5 482.8,205.6 482.9,204.7 483.0,208.4 483.2,205.8 483.3,209.8 483.4,207.6 483.5,210.8 483.6,209.2 483.7,212.3 483.9,210.6 484.0,214.2 484.1,212.2 484.2,215.8 484.3,213.3 484.5,216.5 484.6,215.0 484.7,217.1 484.7,217.8 484.7,213.4 484.6,216.0 484.6,212.8 484.6,215.2 484.6,210.2 484.6,213.3 484.6,209.5 484.5,210.9 484.5,207.9 484.5,209.1 484.5,206.6 484.5,208.2 484.4,204.5 484.4,206.6 484.4,203.0 484.4,204.2 484.4,200.9 484.3,203.5 484.3,199.5 484.3,201.8 484.3,197.7 484.3,200.8 484.2,195.8 484.2,198.8 484.2,194.9 484.2,196.6 484.2,193.2 484.2,196.0 484.1,191.7 484.1,193.5 484.1,191.4 484.7,189.7 485.3,191.7 485.9,190.4 486.1,189.0 486.3,192.8 486.5,191.2 486.7,195.7 487.0,193.3 487.2,196.8 487.4,194.7 487.6,197.9 487.8,197.6 488.0,197.3 488.1,200.1 488.3,197.9 488.5,202.5 488.6,199.3 488.8,203.0 489.0,201.2 489.1,204.9 489.3,202.7 489.5,206.8 489.6,204.7 489.8,208.9 490.0,206.7 490.1,210.1 490.3,209.0 490.5,206.2 490.7,208.9 490.9,205.0 491.1,208.1 491.2,204.0 491.4,206.0 491.6,201.7 491.8,204.0 492.0,200.2 492.2,202.5 492.4,198.9 492.6,201.2 492.8,197.1 493.0,199.3 493.1,195.6 493.3,198.0 493.5,194.6 493.7,196.5 493.9,194.1 494.0,193.7 494.0,197.8 494.1,195.0 494.2,199.1 494.2,196.5 494.3,200.3 494.4,198.6 494.4,201.4 494.5,199.1 494.6,203.5 494.6,201.3 494.7,205.1 494.8,202.4 494.9,206.3 494.9,204.9 495.0,208.7 495.1,206.1 495.1,210.0 495.2,207.2 495.3,212.0 495.3,208.7 495.4,211.5 495.5,213.1 495.6,211.8 495.7,215.9 495.7,212.8 495.8,216.5 495.9,215.4 496.0,218.3 496.1,217.0 496.2,220.0 496.3,217.7 496.3,221.9 496.4,219.8 496.5,222.9 496.6,222.8 497.5,221.1 498.3,222.0 498.4,225.0 498.4,221.8 498.5,225.8 498.5,223.7 498.6,227.9 498.6,224.9 498.7,228.5 498.7,226.6 498.8,230.4 498.9,228.4 498.9,231.8 499.0,230.2 499.0,233.5 499.1,231.8 499.1,234.7 499.2,233.6 499.2,237.0 499.3,235.4 499.4,238.1 499.4,236.0 499.5,239.8 499.5,238.2 499.6,241.3 499.6,239.0 499.7,242.7 499.8,240.9 499.8,245.4 499.9,243.1 499.9,246.3 500.0,243.8 500.0,248.2 500.1,246.0 500.1,248.9 500.2,248.9 500.4,246.7 500.5,248.6 500.7,244.7 500.9,246.9 501.0,243.6 501.2,245.8 501.4,241.4 501.5,243.8 501.7,240.4 501.9,242.6 502.1,238.1 502.2,240.4 502.4,236.4 502.6,239.6 502.7,235.7 502.9,237.9 503.1,234.1 503.2,235.5 503.4,233.8 503.8,231.3 504.2,233.9 504.6,232.0 504.8,231.2 505.0,235.0 505.2,232.2 505.4,236.9 505.7,235.0 505.9,238.2 506.1,235.9 506.3,239.6 506.5,238.9 507.0,237.5 507.6,241.3 508.1,239.0 508.7,243.1 509.2,240.1 509.8,243.5 510.3,242.6 510.6,241.8 510.8,246.0 511.1,243.1 511.4,247.3 511.7,244.9 511.9,247.8 512.2,247.7 512.3,246.8 512.4,250.9 512.5,248.3 512.5,252.8 512.6,250.8 512.7,253.6 512.8,252.5 512.9,256.1 513.0,254.0 513.1,256.7 513.1,254.7 513.2,259.0 513.3,257.3 513.4,259.0 514.2,260.4 515.0,256.6 515.8,259.5 516.6,257.7 516.9,257.6 517.2,260.9 517.4,258.6 517.7,262.3 518.0,259.2 518.3,264.1 518.6,260.9 518.9,264.6 519.1,263.2 519.4,266.7 519.7,265.9 519.7,264.3 519.8,266.5 519.8,262.4 519.8,263.9 519.9,260.8 519.9,262.4 519.9,258.5 520.0,261.3 520.0,257.4 520.1,259.5 520.1,256.5 520.1,257.8 520.2,253.8 520.2,256.9 520.2,252.3 520.3,254.6 520.3,252.7 521.0,251.0 521.6,251.4 521.9,253.0 522.2,251.4 522.4,254.9 522.7,252.9 523.0,256.6 523.3,254.3 523.6,257.9 523.9,255.4 524.1,259.2 524.4,256.8 524.7,259.6 524.9,260.4 525.0,257.2 525.2,258.4 525.4,254.9 525.5,257.0 525.7,253.3 525.9,255.3 526.0,252.1 526.2,254.4 526.4,250.5 526.5,252.7 526.7,248.2 526.9,250.9 527.0,247.1 527.2,247.7 527.4,249.0 527.6,244.8 527.8,247.4 528.0,243.8 528.2,245.3 528.3,241.5 528.5,243.2 528.7,239.6 528.9,241.7 529.1,240.1 529.4,237.7 529.6,239.6 529.9,235.8 530.2,238.7 530.5,234.5 530.7,237.1 531.0,234.9 531.6,233.5 532.2,237.4 532.9,234.8 533.5,236.4 533.6,238.2 533.8,235.9 533.9,239.6 534.0,237.3 534.1,241.2 534.3,240.0 534.4,242.6 534.5,240.5 534.7,245.3 534.8,243.9 535.0,243.3 535.1,247.2 535.3,245.1 535.5,249.1 535.6,246.1 535.8,249.7 536.0,248.6 536.1,252.0 536.3,250.2 536.5,253.8 536.6,251.4 536.8,254.5 537.0,252.6 537.1,256.2 537.3,255.8 537.5,253.4 537.7,255.2 537.9,251.4 538.1,253.9 538.3,249.9 538.5,252.1 538.8,248.4 539.0,251.7 539.2,247.4 539.4,248.8 539.6,245.9 539.8,246.4 540.0,248.8 540.2,246.8 540.4,250.2 540.6,248.5 540.8,251.6 540.9,249.1 541.1,253.1 541.3,250.7 541.5,254.2 541.7,254.0 542.2,251.4 542.7,253.7 543.2,250.0 543.8,253.7 544.3,248.7 544.8,250.2 545.1,252.4 545.4,250.4 545.7,253.6 546.0,251.2 546.2,255.2 546.5,252.3 546.8,256.0 547.1,254.3 547.4,256.5 547.3,259.3 547.3,256.5 547.2,260.5 547.2,258.8 547.1,261.5 547.1,260.2 547.0,264.2 547.0,261.0 546.9,263.8 547.1,265.7 547.4,263.3 547.6,267.0 547.8,265.3 548.1,269.9 548.3,267.3 548.6,271.4 548.8,270.1 548.9,269.2 549.1,272.5 549.2,271.1 549.4,274.6 549.5,272.8 549.7,276.5 549.8,274.4 550.0,278.1 550.1,275.7 550.3,277.7 550.6,277.8 551.0,274.6 551.3,276.3 551.7,273.1 552.0,275.8 552.4,271.5 552.8,273.8 553.1,270.8 553.4,272.4 553.8,270.1 554.0,270.0 554.3,273.4 554.5,271.5 554.8,274.8 555.0,272.8 555.2,276.1 555.5,273.9 555.7,276.4 555.9,278.2 556.2,277.0 556.4,280.9 556.7,278.3 556.9,282.3 557.1,279.1 557.4,283.4 557.6,282.7 558.2,282.2 558.9,284.6 559.5,282.2 560.2,285.6 560.8,285.2 560.9,284.5 561.1,288.3 561.2,286.6 561.4,289.8 561.5,288.1 561.7,291.5 561.9,289.2 562.0,291.5 562.4,293.5 562.7,291.8 563.1,294.9 563.5,293.2 563.8,296.0 564.2,294.6 564.5,298.4 564.9,297.1 565.1,294.9 565.4,297.6 565.6,294.0 565.9,296.2 566.1,291.8 566.4,294.5 566.6,290.2 566.8,292.8 567.1,289.2 567.3,291.4 567.6,287.8 567.8,289.2 568.1,286.4 568.3,286.5 568.6,287.1 568.8,283.5 569.1,285.5 569.3,281.5 569.6,283.7 569.8,280.5 570.1,282.5 570.4,279.0 570.6,281.8 570.9,277.4 571.1,279.3 571.4,277.7 572.3,276.4 573.3,277.4 573.6,279.8 573.9,276.7 574.1,280.4 574.4,278.7 574.7,282.8 575.0,279.9 575.2,283.8 575.5,281.3 575.8,284.0 576.3,286.0 576.9,283.1 577.4,286.6 577.9,284.4 578.5,288.4 579.0,287.7 579.2,287.1 579.5,290.1 579.7,288.8 580.0,292.5 580.2,289.7 580.5,293.2 580.7,291.7 581.0,294.6 581.2,293.4 581.5,296.2 581.7,295.9 582.3,294.1 582.9,297.0 583.5,292.1 584.1,295.7 584.7,291.8 585.3,292.7 585.4,293.4 585.4,289.3 585.5,292.4 585.6,287.7 585.7,290.5 585.8,287.0 585.8,288.9 585.9,284.5 586.0,287.6 586.0,284.0 586.1,285.9 586.2,282.1 586.3,283.5 586.4,279.6 586.4,282.7 586.5,280.2 586.7,277.6 586.8,279.7 587.0,276.0 587.2,279.3 587.4,274.4 587.5,277.6 587.7,273.0 587.9,276.2 588.1,271.9 588.2,274.1 588.4,272.0 588.6,270.8 588.7,275.5 588.9,272.3 589.0,276.3 589.2,273.8 589.3,278.2 589.5,275.4 589.7,279.2 589.8,276.9 590.0,281.7 590.1,279.5 590.3,281.4 590.4,282.6 590.5,278.7 590.6,280.1 590.7,276.9 590.9,278.6 591.0,275.3 591.1,278.0 591.2,273.4 591.3,276.2 591.4,272.3 591.5,274.7 591.6,270.2 591.8,273.1 591.9,268.4 592.0,271.7 592.1,267.6 592.2,268.2 593.0,269.1 593.8,266.5 594.5,270.2 595.3,268.2 595.3,267.7 595.4,271.4 595.4,268.6 595.5,273.3 595.5,271.4 595.6,274.4 595.6,272.9 595.7,275.5 595.8,273.4 595.8,277.5 595.9,275.3 595.9,277.7 596.1,279.9 596.3,278.0 596.5,281.0 596.7,279.4 596.8,283.4 597.0,280.5 597.2,284.1 597.4,282.8 597.6,285.6 597.8,285.2 598.4,282.9 599.1,285.6 599.7,282.0 600.4,285.1 601.0,282.7 601.1,282.6 601.3,286.1 601.4,284.4 601.5,288.0 601.7,285.8 601.8,288.9 601.9,286.4 602.1,290.7 602.2,290.2 603.0,288.7 603.9,291.4 604.7,289.0 605.1,286.6 605.5,289.6 605.9,285.5 606.3,287.6 606.7,283.3 607.1,286.2 607.5,281.8 607.9,283.3 608.1,285.1 608.2,282.9 608.4,286.7 608.5,284.9 608.7,288.0 608.8,287.0 609.0,290.9 609.2,288.1 609.3,292.3 609.5,290.0 609.6,293.2 609.8,292.7 609.9,292.6 609.9,295.9 610.0,293.2 610.1,297.5 610.2,295.5 610.2,299.7 610.3,296.4 610.4,301.0 610.5,299.2 610.6,302.6 610.6,300.4 610.7,302.6 610.8,305.5 610.9,302.9 610.9,306.6 611.0,304.0 611.1,307.8 611.1,305.7 611.2,309.8 611.3,308.8 611.6,306.0 611.9,308.8 612.2,305.3 612.5,308.0 612.8,304.3 613.0,306.3 613.3,301.9 613.6,304.5 613.9,300.8 614.2,303.3 614.5,300.7 614.6,299.5 614.6,304.1 614.7,301.3 614.8,304.7 614.8,303.5 614.9,306.5 615.0,304.2 615.0,309.1 615.1,306.9 615.2,310.3 615.2,307.9 615.3,311.1 615.4,309.8 615.4,313.7 615.5,311.0 615.6,314.7 615.6,312.4 615.7,315.1 615.8,317.0 615.8,315.1 615.9,318.8 616.0,316.0 616.0,320.6 616.1,317.7 616.2,322.2 616.3,319.9 616.3,324.1 616.4,322.7 616.9,320.3 617.4,323.2 617.9,319.6 618.4,321.1 618.9,319.5 619.0,318.7 619.1,323.1 619.3,320.1 619.4,324.0 619.5,322.6 619.6,325.9 619.7,323.2 619.9,327.1 620.0,325.1 620.1,327.7 620.1,329.5 620.2,328.1 620.2,330.9 620.3,329.7 620.3,333.0 620.4,330.3 620.4,335.4 620.5,333.0 620.5,336.0 620.5,333.5 620.6,337.4 620.6,335.9 620.7,339.3 620.7,337.8 620.8,340.7 620.8,340.3 621.1,339.7 621.4,343.1 621.7,340.4 622.0,344.4 622.3,342.9 622.6,344.7 622.9,346.1 623.2,341.9 623.6,344.6 623.9,340.2 624.2,343.1 624.5,339.3 624.8,340.8 625.2,337.2 625.5,339.8 625.8,337.7 625.9,335.3 626.1,337.9 626.2,333.5 626.3,335.7 626.5,332.5 626.6,335.1 626.7,330.7 626.9,332.6 627.0,329.0 627.1,331.0 627.3,327.2 627.4,328.3 627.7,329.9 628.0,327.9 628.3,332.2 628.6,330.1 629.0,334.2 629.3,331.8 629.6,334.8 629.9,333.6 630.2,335.2 630.4,336.0 630.7,331.8 630.9,334.5 631.1,330.6 631.3,333.1 631.6,329.5 631.8,330.8 632.0,327.1 632.2,330.2 632.5,325.5 632.7,326.4 632.8,327.4 633.0,323.0 633.1,325.4 633.3,321.2 633.4,324.4 633.6,320.5 633.7,322.3 633.9,318.3 634.0,320.7 634.2,317.7 634.3,320.0 634.5,315.6 634.6,316.4 634.9,317.2 635.2,313.3 635.5,316.4 635.8,313.6 636.1,313.3 636.4,316.2 636.8,314.7 637.1,317.6 637.4,315.4 637.7,317.6 637.9,320.3 638.1,317.4 638.3,321.5 638.5,319.3 638.7,323.0 638.8,321.0 639.0,324.9 639.2,321.8 639.4,326.4 639.6,325.2 639.8,325.0 639.9,328.5 640.1,325.7 640.3,329.9 640.4,327.1 640.6,332.0 640.8,328.9 640.9,333.5 641.1,330.6 641.3,335.2 641.4,333.0 641.6,336.5 641.8,333.7 641.9,338.0 642.1,337.1 642.3,335.1 642.6,336.4 642.8,333.1 643.0,335.9 643.3,332.0 643.5,333.4 643.8,330.5 644.0,330.8 644.2,332.5 644.3,330.6 644.5,335.2 644.6,331.9 644.8,335.9 645.0,333.6 645.1,337.0 645.3,334.9 645.4,338.9 645.6,338.4 645.8,336.9 646.0,338.5 646.2,335.1 646.4,336.5 646.6,333.7 646.8,335.2 647.0,331.5 647.2,334.2 647.4,330.7 647.6,332.7 647.8,329.1 648.0,330.3 648.2,326.8 648.4,327.7 648.8,328.3 649.2,325.2 649.6,327.4 650.0,325.2 650.5,324.7 651.1,328.4 651.7,326.0 652.2,327.7 652.3,330.5 652.4,327.4 652.5,331.7 652.6,330.2 652.6,333.7 652.7,331.9 652.8,335.0 652.9,333.0 653.0,335.2 653.6,335.5 654.2,332.5 654.8,335.5 655.4,331.5 656.0,334.0 656.6,332.1 657.2,330.3 657.9,333.1 658.5,330.0 659.1,330.8 659.7,333.2 660.4,329.5 661.0,332.1 661.2,334.8 661.3,331.6 661.5,335.7 661.7,333.1 661.8,337.0 662.0,335.4 662.1,338.7 662.3,337.1 662.5,341.0 662.6,338.3 662.8,340.9 663.0,341.6 663.3,338.2 663.5,339.7 663.7,336.6 664.0,338.3 664.2,335.4 664.5,337.5 664.7,333.4 664.9,335.6 665.2,332.4 665.4,332.7 665.9,333.9 666.3,330.4 666.8,332.0 667.2,330.2 667.6,329.4 668.0,333.5 668.3,330.3 668.7,335.1 669.1,334.0 669.2,331.1 669.4,334.5 669.5,329.8 669.6,332.6 669.8,329.1 669.9,330.2 670.0,327.6 670.2,329.5 670.3,324.9 670.5,327.6 670.6,324.0 670.7,325.6 670.9,322.5 671.0,322.7 671.3,323.7 671.6,319.3 672.0,322.0 672.3,320.2 672.5,318.6 672.7,319.7 672.9,316.6 673.1,319.1 673.4,314.4 673.6,317.0 673.8,313.8 674.0,314.9 674.2,313.2 674.5,312.9 674.7,316.5 675.0,313.9 675.2,318.3 675.5,314.8 675.7,319.5 676.0,318.3 676.3,316.1 676.5,318.7 676.8,315.1 677.0,316.2 677.3,312.9 677.6,315.2 677.8,311.9 678.1,313.4 678.3,310.7 678.6,310.7 678.8,313.6 678.9,310.5 679.0,315.2 679.2,311.7 679.4,316.1 679.5,313.6 679.6,317.6 679.8,315.1 680.0,319.8 680.1,317.7 680.2,320.2 680.4,320.2 680.7,320.0 681.1,323.5 681.4,322.7 681.9,320.7 682.3,322.1 682.8,318.7 683.3,321.9 683.7,317.9 684.2,318.6 684.4,320.2 684.7,318.0 684.9,322.3 685.1,320.7 685.4,323.5 685.6,321.3 685.8,325.8 686.1,323.0 686.3,325.2 686.4,327.6 686.6,325.6 686.7,328.6 686.8,326.1 687.0,330.3 687.1,328.8 687.2,332.1 687.3,330.2 687.5,333.0 687.6,332.7 688.4,331.0 689.2,333.7 689.9,330.1 690.7,331.5 691.1,332.6 691.4,328.6 691.8,330.2 692.1,326.8 692.5,328.7 692.8,325.7 693.2,326.4 693.3,328.5 693.4,326.2 693.6,330.5 693.7,328.3 693.8,330.2 694.0,331.1 694.2,326.9 694.4,329.4 694.6,326.2 694.8,328.5 694.9,324.1 695.1,325.8 695.3,323.1 695.5,325.6 695.7,322.7 695.9,322.4 696.0,325.6 696.2,323.1 696.3,327.8 696.5,324.9 696.6,329.2 696.8,327.3 697.0,329.9 697.1,327.6 697.3,332.4 697.4,330.5 697.6,332.9 697.7,331.7 697.9,335.7 698.0,333.3 698.2,335.2 698.3,336.1 698.4,331.5 698.6,334.5 698.7,330.0 698.8,332.4 698.9,329.5 699.0,330.5 699.2,327.1 699.3,329.1 699.4,325.2 699.5,328.4 699.6,324.8 699.7,327.0 699.9,323.3 700.0,325.0 700.1,322.7 700.4,321.2 700.8,323.3 701.1,318.8 701.4,320.2 702.0,322.9 702.6,320.7 703.3,324.1 703.9,322.7 704.1,320.3 704.3,323.0 704.5,318.8 704.8,321.1 705.0,317.0 705.2,319.7 705.4,317.0 705.9,316.8 706.3,319.3 706.8,317.6 707.3,321.0 707.8,319.2 708.2,322.1 708.7,322.0 708.9,319.4 709.1,321.2 709.3,317.6 709.5,320.7 709.7,316.6 709.8,318.1 710.0,314.7 710.2,316.7 710.4,313.4 710.6,314.9 710.8,313.2 711.6,311.0 712.4,314.8 713.2,311.9 714.0,313.2 714.3,314.9 714.6,312.9 714.9,317.5 715.2,314.3 715.5,317.9 715.9,316.5 716.2,319.7 716.5,317.4 716.8,321.0 717.1,320.8 717.4,318.5 717.7,321.5 718.0,316.8 718.4,318.7 718.7,316.4 719.0,317.5 719.3,314.1 719.6,315.1 720.1,316.1 720.6,312.4 721.2,314.8 721.7,311.4 722.2,313.8 722.7,311.6 722.9,310.7 723.2,315.2 723.4,312.0 723.7,316.5 723.9,313.3 724.1,318.1 724.4,315.1 724.6,317.6 724.7,319.2 724.8,317.4 724.9,321.9 725.0,319.4 725.0,323.6 725.1,321.3 725.2,325.2 725.3,323.9 725.6,321.8 725.9,324.2 726.1,320.6 726.4,322.2 726.7,318.9 727.0,320.7 727.3,317.8 727.6,319.4 727.8,315.1 728.1,318.2 728.4,315.8 728.5,314.5 728.6,319.2 728.7,316.2 728.8,321.1 728.9,317.9 729.0,321.7 729.2,320.2 729.3,323.4 729.4,322.1 729.5,324.7 729.6,322.4 729.7,325.2 730.0,328.0 730.2,325.4 730.5,329.2 730.7,326.2 731.0,330.8 731.2,327.6 731.5,330.2 731.7,330.9 732.0,327.7 732.2,329.8 732.5,325.8 732.7,327.9 732.9,324.2 733.2,326.2 733.4,323.9 733.6,322.5 733.8,326.4 734.0,324.7 734.2,328.6 734.3,326.2 734.5,330.6 734.7,327.9 734.9,332.1 735.1,329.0 735.3,331.5 735.4,334.4 735.6,332.1 735.7,334.8 735.8,333.3 736.0,337.3 736.1,335.2 736.2,337.9 736.3,335.7 736.5,340.4 736.6,339.0 737.4,338.0 738.2,340.4 738.9,337.2 739.7,339.0 739.8,340.0 739.9,335.6 739.9,338.5 740.0,334.7 740.1,336.2 740.2,333.5 740.3,335.2 740.4,331.6 740.4,333.1 740.5,329.0 740.6,332.0 740.7,327.9 740.8,330.5 740.8,326.4 740.9,329.0 741.0,326.4 741.3,324.5 741.6,325.9 741.9,323.4 742.2,324.4 742.6,321.6 742.9,323.2 743.2,320.6 743.5,320.8 744.3,322.4 745.0,318.9 745.8,323.0 746.6,321.4 747.0,320.9 747.3,324.7 747.7,322.5 748.0,325.1 748.4,323.7 748.7,327.0 749.1,324.5 749.4,328.4 749.8,327.7 750.0,325.1 750.2,327.1 750.5,323.3 750.7,325.9 750.9,322.0 751.1,324.0 751.4,320.5 751.6,322.8 751.8,318.9 752.0,322.1 752.3,317.7 752.5,319.8 752.7,317.9 752.9,317.9 753.2,320.5 753.4,318.2 753.7,322.0 753.9,320.1 754.2,324.1 754.4,321.6 754.7,325.1 754.9,323.9 755.2,326.5 755.4,326.4 756.0,324.9 756.7,329.0 757.3,328.3 757.7,325.9 758.1,328.4 758.4,325.0 758.8,326.2 759.2,324.6" fill="none" stroke="#000" stroke-width="4.9" stroke-linejoin="round" stroke-linecap="round"/>
</svg>
</body></html>
